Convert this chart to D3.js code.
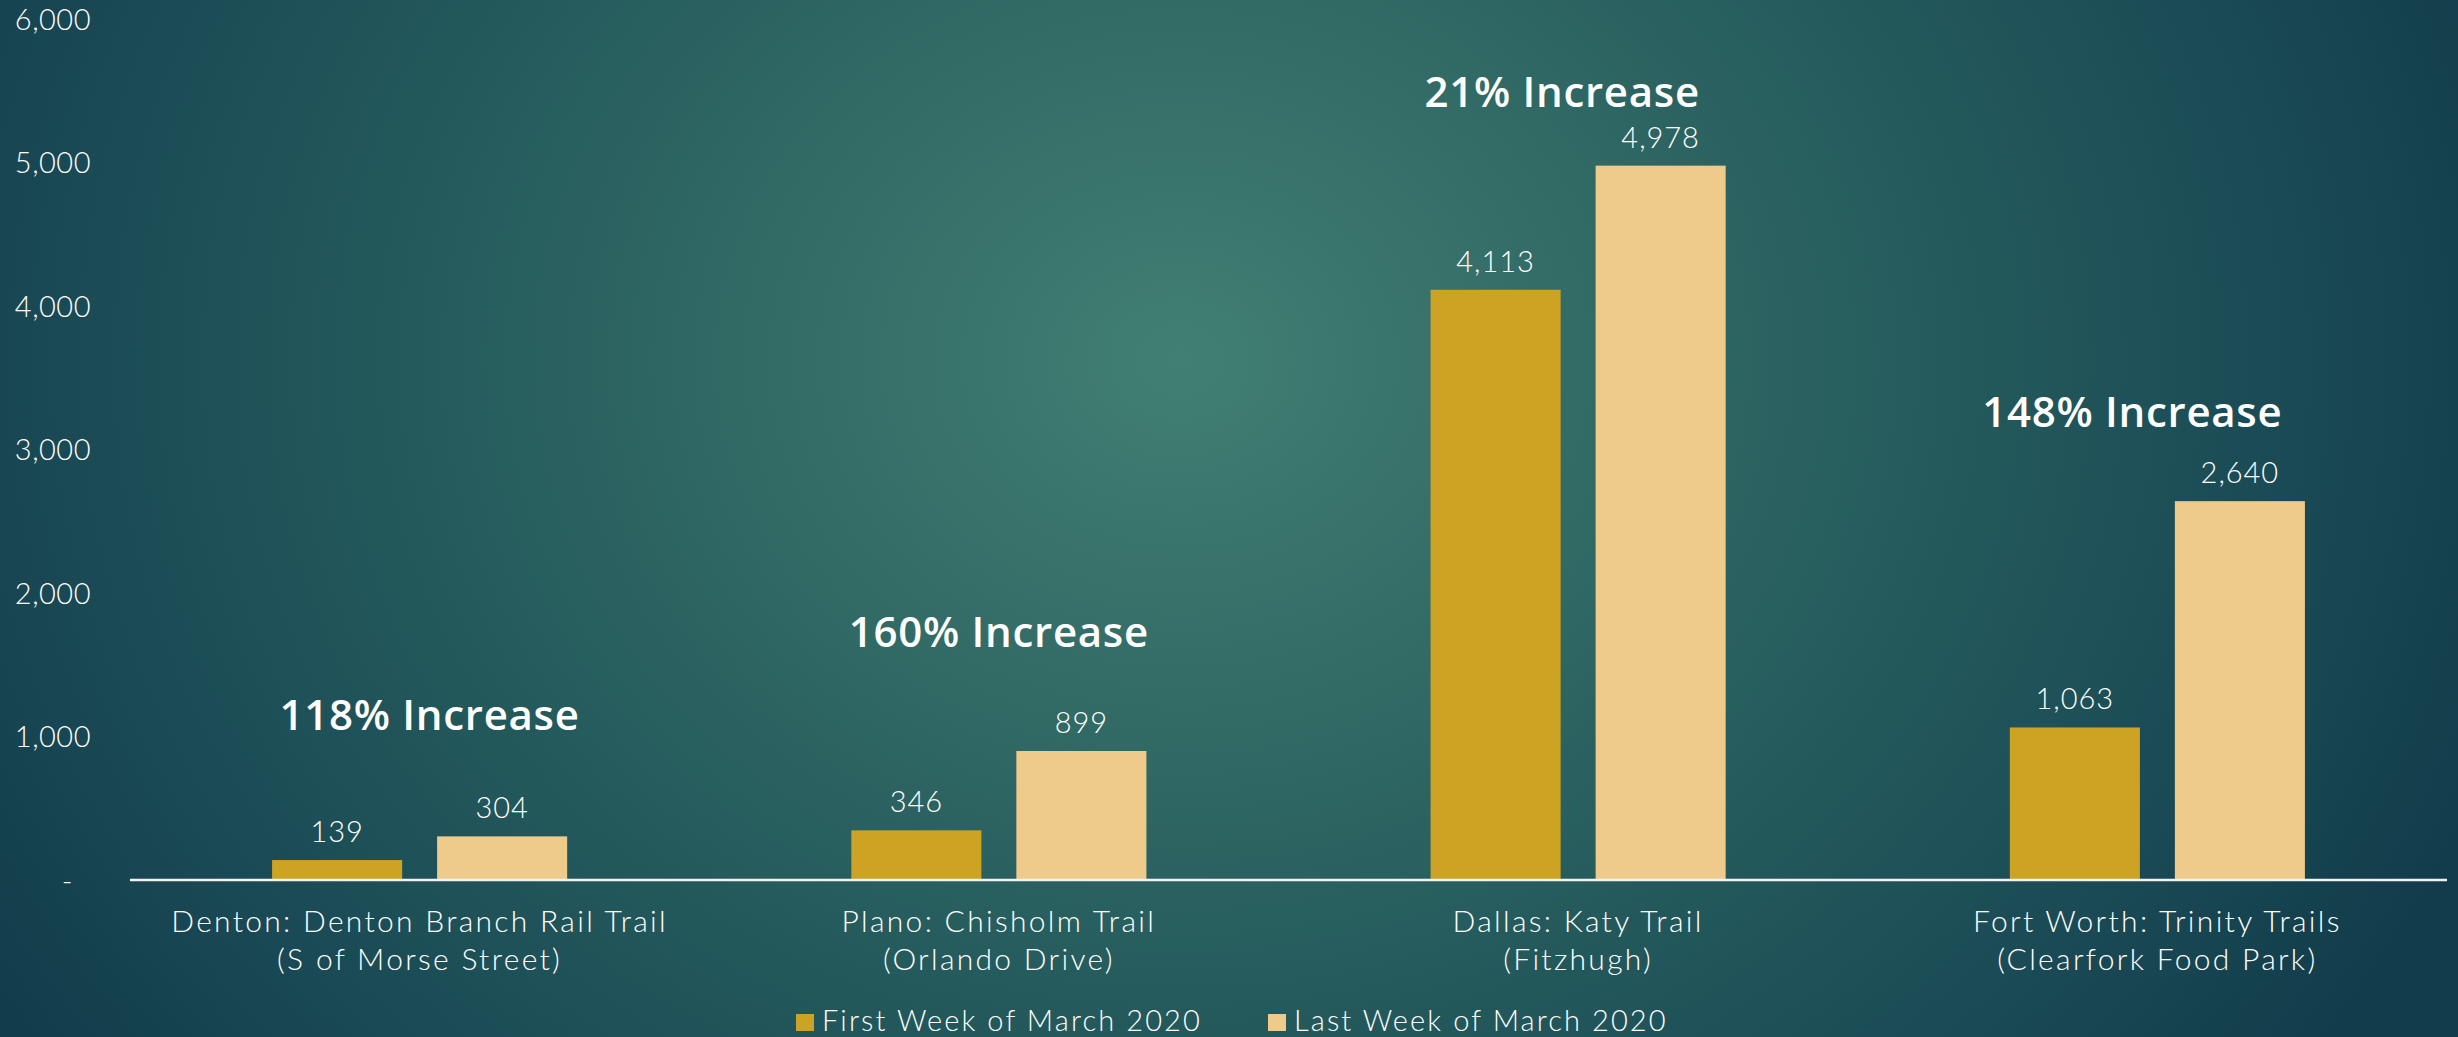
<!DOCTYPE html>
<html>
<head>
<meta charset="utf-8">
<script src="https://cdn.jsdelivr.net/npm/d3@7/dist/d3.min.js"></script>
<style>
  html, body { margin: 0; padding: 0; background: #1a4a55; }
  svg { display: block; }
  .tick text, .val, .cat, .legend text { font-family: Lato, "Open Sans", sans-serif; font-weight: 300; fill: #ffffff; }
  .callout { font-family: "Open Sans", Lato, sans-serif; font-weight: 600; fill: #ffffff; }
</style>
</head>
<body>
<svg id="chart" width="2458" height="1037"></svg>
<script>
// Trail counts, first vs last week of March 2020
const trails = [
  ["Denton: Denton Branch Rail Trail", "(S of Morse Street)"],
  ["Plano: Chisholm Trail", "(Orlando Drive)"],
  ["Dallas: Katy Trail", "(Fitzhugh)"],
  ["Fort Worth: Trinity Trails", "(Clearfork Food Park)"]
];
const seriesNames = ["First Week of March 2020", "Last Week of March 2020"];
const firstWeek = [139, 346, 4113, 1063];
const lastWeek = [304, 899, 4978, 2640];
const increaseLabels = ["118% Increase", "160% Increase", "21% Increase", "148% Increase"];
const yTicks = [0, 1000, 2000, 3000, 4000, 5000, 6000];

const W = 2458, H = 1037;
const colors = ["#cda323", "#eecb8b"];

// hand-placed callout offsets (px): lift above the taller bar, horizontal nudge
const calloutLift = [106, 104, 59, 74];
const calloutNudge = [10, 0, -16, -25];

const svg = d3.select("#chart");

// background glow
const defs = svg.append("defs");
const grad = defs.append("radialGradient")
  .attr("id", "bg")
  .attr("gradientUnits", "userSpaceOnUse")
  .attr("cx", 1180).attr("cy", 360).attr("r", 1400)
  .attr("gradientTransform", "translate(1180,360) scale(1,0.85) translate(-1180,-360)");
[[0, "#417f73"], [0.25, "#356e68"], [0.55, "#245a5c"], [0.8, "#1a4a55"], [1, "#123c4b"]]
  .forEach(([o, c]) => grad.append("stop").attr("offset", o).attr("stop-color", c));
svg.append("rect").attr("width", W).attr("height", H).attr("fill", "url(#bg)");

const x0 = d3.scaleBand().domain(d3.range(trails.length)).range([130, 2447]).padding(0);
const x1 = d3.scaleBand().domain([0, 1]).range([0, x0.bandwidth()])
  .paddingInner(0.212).paddingOuter(0.861);
const y = d3.scaleLinear().domain([0, 6000]).range([880, 19]);

// value axis (labels only)
const yAxis = svg.append("g")
  .attr("transform", "translate(91,0)")
  .call(d3.axisLeft(y).tickValues(yTicks).tickSize(0).tickPadding(0)
    .tickFormat(d => d === 0 ? "-" : d3.format(",")(d)));
yAxis.select(".domain").remove();
yAxis.selectAll("text").attr("font-size", 29).attr("dy", "0.36em").attr("letter-spacing", 0.5);
yAxis.selectAll(".tick").filter(d => d === 0).select("text").attr("x", -18);

// bars
const groups = svg.append("g").selectAll("g")
  .data(trails.map((t, i) => ({ i, vals: [firstWeek[i], lastWeek[i]] })))
  .join("g")
  .attr("transform", d => `translate(${x0(d.i)},0)`);

groups.selectAll("rect")
  .data(d => d.vals.map((v, s) => ({ v, s })))
  .join("rect")
  .attr("x", d => x1(d.s))
  .attr("width", x1.bandwidth())
  .attr("y", d => y(d.v))
  .attr("height", d => y(0) - y(d.v))
  .attr("fill", d => colors[d.s]);

groups.selectAll("text.val")
  .data(d => d.vals.map((v, s) => ({ v, s })))
  .join("text")
  .attr("class", "val")
  .attr("x", d => x1(d.s) + x1.bandwidth() / 2)
  .attr("y", d => y(d.v) - 18)
  .attr("text-anchor", "middle")
  .attr("font-size", 29)
  .attr("letter-spacing", 1)
  .text(d => d3.format(",")(d.v));

// callouts
groups.append("text")
  .attr("class", "callout")
  .attr("x", d => x0.bandwidth() / 2 + calloutNudge[d.i])
  .attr("y", d => y(Math.max(...d.vals)) - calloutLift[d.i])
  .attr("text-anchor", "middle")
  .attr("font-size", 42)
  .attr("letter-spacing", 0.7)
  .text(d => increaseLabels[d.i]);

// baseline
svg.append("line")
  .attr("x1", x0.range()[0]).attr("x2", x0.range()[1])
  .attr("y1", y(0)).attr("y2", y(0))
  .attr("stroke", "#f2f2f2").attr("stroke-width", 2.5);

// category labels
groups.append("text")
  .attr("class", "cat")
  .attr("text-anchor", "middle")
  .attr("font-size", 30)
  .attr("letter-spacing", 2.3)
  .selectAll("tspan")
  .data(d => trails[d.i])
  .join("tspan")
  .attr("x", x0.bandwidth() / 2)
  .attr("y", (d, k) => 932 + k * 38)
  .text(d => d);

// legend
const legend = svg.append("g").attr("class", "legend");
const legendX = [796, 1268];
seriesNames.forEach((name, s) => {
  const g = legend.append("g").attr("transform", `translate(${legendX[s]},0)`);
  g.append("rect").attr("x", 0).attr("y", 1014).attr("width", 18).attr("height", 17).attr("fill", colors[s]);
  g.append("text").attr("x", 26).attr("y", 1031).attr("font-size", 29)
    .attr("letter-spacing", 2.1).text(name);
});
</script>
</body>
</html>
